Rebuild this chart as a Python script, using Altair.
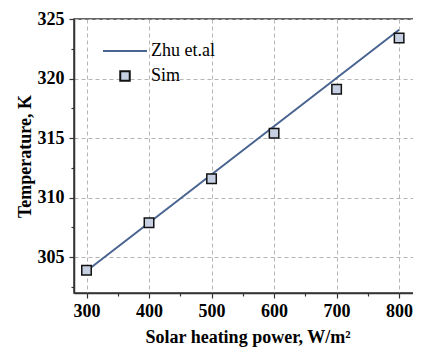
import altair as alt
import pandas as pd

# Data
series_names = ["Zhu et.al", "Sim"]
sim_x = [300, 400, 500, 600, 700, 800]
sim_y = [303.9, 307.9, 311.6, 315.4, 319.1, 323.4]
line_x = [300, 400, 500, 600, 700, 800]
line_y = [303.85, 307.9, 311.95, 316.0, 320.05, 324.1]
x_ticks = [300, 350, 400, 450, 500, 550, 600, 650, 700, 750, 800]
y_ticks = [302.5, 305, 307.5, 310, 312.5, 315, 317.5, 320, 322.5, 325]

line_df = pd.DataFrame({"power": line_x, "temp": line_y, "series": series_names[0]})
sim_df = pd.DataFrame({"power": sim_x, "temp": sim_y, "series": series_names[1]})

FONT = "Liberation Serif"
LINE_COLOR = "#4a6491"
FILL = "#c6d0e2"
FRAME = "#333333"

axis_common = dict(
    labelFont=FONT,
    labelFontSize=18,
    labelFontWeight="bold",
    labelColor="black",
    titleFont=FONT,
    titleFontSize=18,
    titleFontWeight="bold",
    titleColor="black",
    domainColor=FRAME,
    domainWidth=1.5,
    tickColor=FRAME,
    tickWidth=1.2,
    gridColor="#b5b5b5",
    gridDash=[4, 3],
    gridWidth=1,
)

x_enc = alt.X(
    "power:Q",
    scale=alt.Scale(domain=[280, 835], nice=False, zero=False),
    axis=alt.Axis(
        values=x_ticks,
        format="d",
        labelExpr="datum.value % 100 == 0 ? datum.label : ''",
        tickSize={"condition": {"test": "datum.value % 100 == 0", "value": 5}, "value": 3},
        gridOpacity={"condition": {"test": "datum.value % 100 == 0", "value": 1}, "value": 0},
        title="Solar heating power, W/m²",
        titlePadding=8,
        labelPadding=4,
        **axis_common,
    ),
)
y_enc = alt.Y(
    "temp:Q",
    scale=alt.Scale(domain=[302, 325], nice=False, zero=False),
    axis=alt.Axis(
        values=y_ticks,
        format="d",
        labelExpr="datum.value % 5 == 0 ? datum.label : ''",
        tickSize={"condition": {"test": "datum.value % 5 == 0", "value": 5}, "value": 3},
        gridOpacity={"condition": {"test": "datum.value % 5 == 0", "value": 1}, "value": 0},
        title="Temperature, K",
        titlePadding=3,
        labelPadding=5,
        **axis_common,
    ),
)

legend_kw = dict(
    title=None,
    orient="none",
    legendX=28,
    legendY=23,
    labelFont=FONT,
    labelFontSize=18,
    labelFontWeight="normal",
    labelColor="black",
    labelOffset=3,
    clipHeight=18,
    rowPadding=7,
    padding=0,
    symbolStrokeWidth=2,
)

line = alt.Chart(line_df).mark_line(color=LINE_COLOR, strokeWidth=2).encode(x=x_enc, y=y_enc)

points = alt.Chart(sim_df).mark_point(filled=True, strokeWidth=1.5, opacity=1).encode(
    x=x_enc,
    y=y_enc,
    shape=alt.Shape("series:N", scale=alt.Scale(domain=series_names, range=["M-1,0H1", "square"]), legend=alt.Legend(**legend_kw)),
    fill=alt.Fill("series:N", scale=alt.Scale(domain=series_names, range=["transparent", FILL]), legend=alt.Legend(**legend_kw)),
    stroke=alt.Stroke("series:N", scale=alt.Scale(domain=series_names, range=[LINE_COLOR, "#111111"]), legend=alt.Legend(**legend_kw)),
    size=alt.Size("series:N", scale=alt.Scale(domain=series_names, range=[1936, 90]), legend=alt.Legend(**legend_kw)),
)

chart = (
    alt.layer(line, points)
    .properties(
        width=347,
        height=274,
        autosize=alt.AutoSizeParams(type="none"),
        padding={"left": 66, "top": 11, "right": -8, "bottom": 54},
        background="white",
    )
    .configure(font=FONT)
    .configure_view(stroke=FRAME, strokeWidth=1.5)
    .configure_legend(labelFont=FONT, labelFontSize=18, labelFontWeight="normal")
    .configure_axis(labelFont=FONT, titleFont=FONT)
)

chart.save("out.html", embed_options={"renderer": "svg", "actions": False})
